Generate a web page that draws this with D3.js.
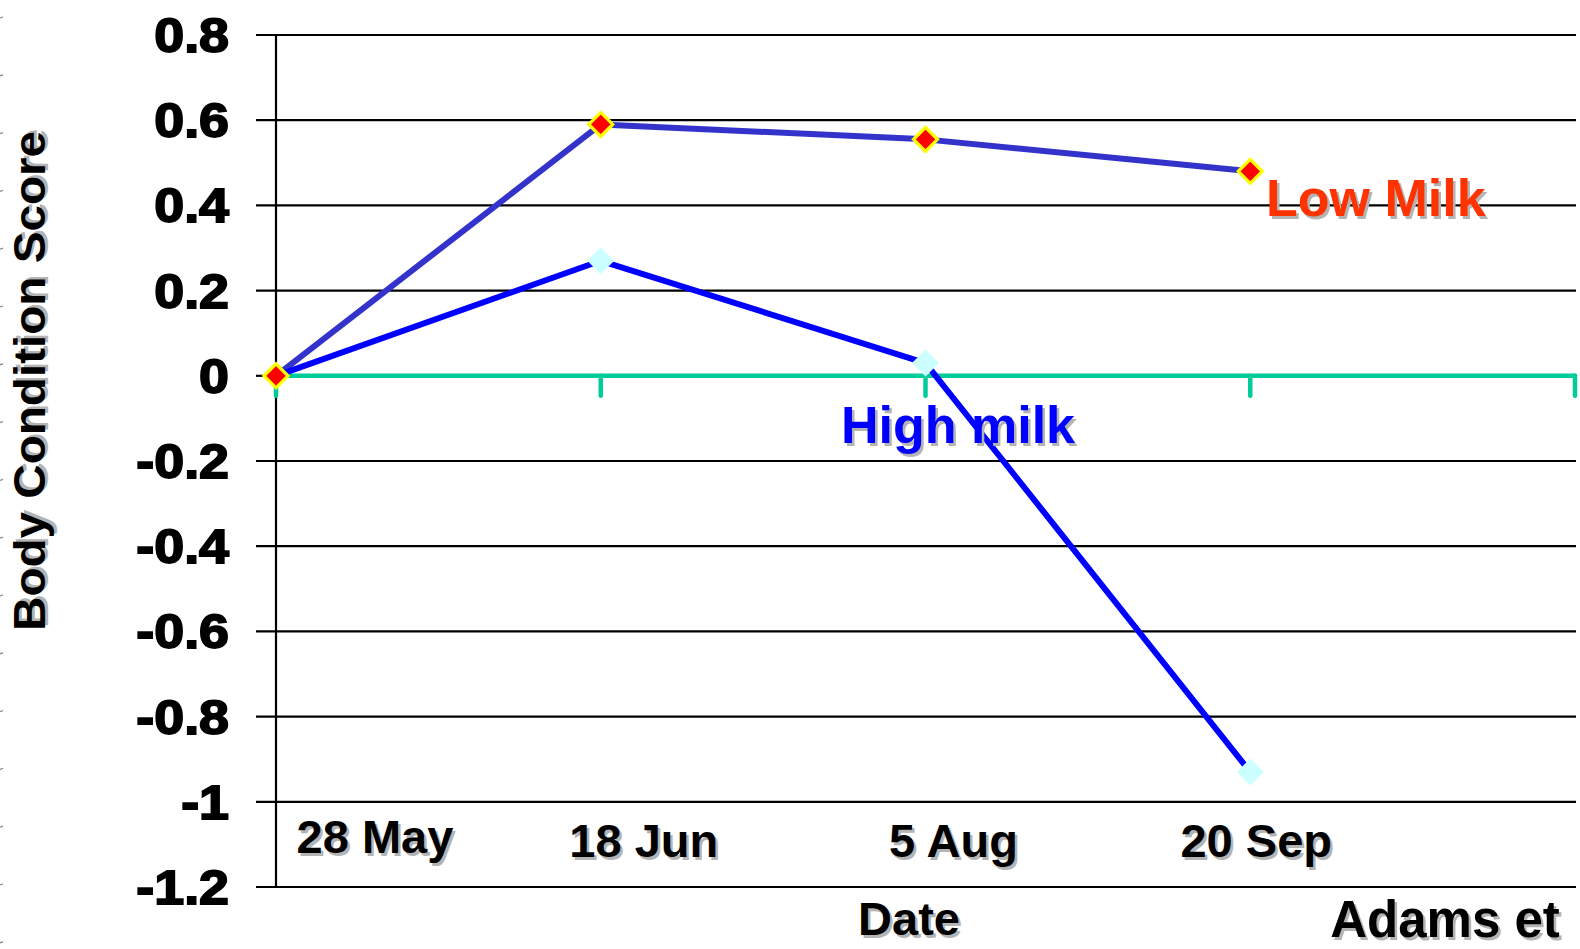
<!DOCTYPE html>
<html>
<head>
<meta charset="utf-8">
<script src="https://cdn.jsdelivr.net/npm/d3@7"></script>
<style>
  html, body { margin: 0; padding: 0; background: #fff; }
  svg { display: block; }
  text { font-family: "Liberation Sans", Arial, sans-serif; font-weight: bold; }
</style>
</head>
<body>
<svg id="chart" width="1580" height="949"></svg>
<script>
// Body condition score change by sampling date
const categories = ["28 May", "18 Jun", "5 Aug", "20 Sep"];
const lowMilk = [0, 0.59, 0.555, 0.48];
const highMilk = [0, 0.27, 0.03, -0.93];
const yTicks = [0.8, 0.6, 0.4, 0.2, 0, -0.2, -0.4, -0.6, -0.8, -1, -1.2];
const xTickCount = 5; // category slots on the axis (last one empty)

const svg = d3.select("#chart");

const x = d3.scaleLinear().domain([0, xTickCount - 1]).range([276, 1575]);
const y = d3.scaleLinear().domain([-1.2, 0.8]).range([887, 35]);

// faint marks along the left edge
const edge = svg.append("g");
d3.range(17).forEach(i => {
  edge.append("line")
    .attr("x1", 0).attr("x2", 3)
    .attr("y1", 18 + i * 57.8).attr("y2", 17 + i * 57.8)
    .attr("stroke", "#8a8a8a").attr("stroke-width", 1.3);
});

// horizontal gridlines (with the left tick stubs)
svg.append("g").selectAll("line")
  .data(yTicks.filter(d => d !== 0))
  .join("line")
  .attr("x1", x(0) - 20).attr("x2", x(xTickCount - 1) + 1)
  .attr("y1", d => y(d)).attr("y2", d => y(d))
  .attr("stroke", "#000").attr("stroke-width", 2.2);

// stub for the zero tick left of the axis
svg.append("line")
  .attr("x1", x(0) - 20).attr("x2", x(0))
  .attr("y1", y(0)).attr("y2", y(0))
  .attr("stroke", "#000").attr("stroke-width", 2.2);

// vertical value axis
svg.append("line")
  .attr("x1", x(0)).attr("x2", x(0))
  .attr("y1", y(0.8)).attr("y2", y(-1.2))
  .attr("stroke", "#000").attr("stroke-width", 2.2);

// y tick labels
const yLab = svg.append("g").selectAll("text")
  .data(yTicks)
  .join("text")
  .attr("x", 229)
  .attr("y", d => y(d) + 17)
  .attr("text-anchor", "end")
  .attr("font-size", 48)
  .attr("fill", "#000")
  .attr("stroke", "#000")
  .attr("stroke-width", 1.8)
  .text(d => d3.format("")(d).replace("\u2212", "-"));
yLab.each(function () {
  const w = this.getComputedTextLength();
  d3.select(this).attr("textLength", w * 1.12).attr("lengthAdjust", "spacingAndGlyphs");
});

// category axis along zero
const zeroAxis = svg.append("g")
  .attr("stroke", "#00CC99").attr("stroke-width", 4.5).attr("stroke-linecap", "round");
zeroAxis.append("line")
  .attr("x1", x(0)).attr("x2", x(xTickCount - 1))
  .attr("y1", y(0)).attr("y2", y(0));
zeroAxis.selectAll("line.tick")
  .data(d3.range(xTickCount))
  .join("line").attr("class", "tick")
  .attr("x1", d => x(d)).attr("x2", d => x(d))
  .attr("y1", y(0)).attr("y2", y(0) + 20);

// text with a soft gray drop shadow
function shadowText(g, tx, ty, str, size, color, opts = {}) {
  const grp = g.append("g");
  const base = grp.append("text")
    .attr("x", tx + 2.5).attr("y", ty + 2.5)
    .attr("font-size", size).attr("fill", "#b4b4b4")
    .attr("text-anchor", opts.anchor || "start")
    .text(str);
  const top = grp.append("text")
    .attr("x", tx).attr("y", ty)
    .attr("font-size", size).attr("fill", color)
    .attr("text-anchor", opts.anchor || "start")
    .text(str);
  if (opts.length) {
    [base, top].forEach(t => t.attr("textLength", opts.length).attr("lengthAdjust", "spacingAndGlyphs"));
  }
  if (opts.transform) grp.attr("transform", opts.transform);
  return grp;
}

// category labels, set in the bottom band of the plot
const labelShift = [99, 43, 28, 6];
const labelDrop = [853, 857, 857, 857];
const labels = svg.append("g");
categories.forEach((c, i) => {
  shadowText(labels, x(i) + labelShift[i], labelDrop[i], c, 47, "#000", { anchor: "middle" });
});

// axis titles
shadowText(svg, 909, 935, "Date", 47, "#000", { anchor: "middle" });
shadowText(svg, 1445, 937, "Adams et", 51, "#000", { anchor: "middle" });
shadowText(svg, 0, 0, "Body Condition Score", 45, "#000",
  { anchor: "middle", length: 500, transform: "translate(45,381) rotate(-90)" });

// series lines
const line = d3.line().x((d, i) => x(i)).y(d => y(d));
svg.append("path").datum(lowMilk)
  .attr("d", line).attr("fill", "none")
  .attr("stroke", "#3333CC").attr("stroke-width", 6).attr("stroke-linejoin", "round");
svg.append("path").datum(highMilk)
  .attr("d", line).attr("fill", "none")
  .attr("stroke", "#0000FF").attr("stroke-width", 6).attr("stroke-linejoin", "round");

// series markers
const diamond = r => `M0,${-r}L${r},0L0,${r}L${-r},0Z`;
svg.append("g").selectAll("path")
  .data(highMilk)
  .join("path")
  .attr("transform", (d, i) => `translate(${x(i)},${y(d)})`)
  .attr("d", diamond(13.5))
  .attr("fill", "#CCFFFF");
svg.append("g").selectAll("path")
  .data(lowMilk)
  .join("path")
  .attr("transform", (d, i) => `translate(${x(i)},${y(d)})`)
  .attr("d", diamond(12))
  .attr("fill", "#FF0000")
  .attr("stroke", "#FFFF00").attr("stroke-width", 3.2);

// series labels
shadowText(svg, 1266, 216, "Low Milk", 52, "#FF3300");
shadowText(svg, 841, 443, "High milk", 52, "#0000FF");
</script>
</body>
</html>
